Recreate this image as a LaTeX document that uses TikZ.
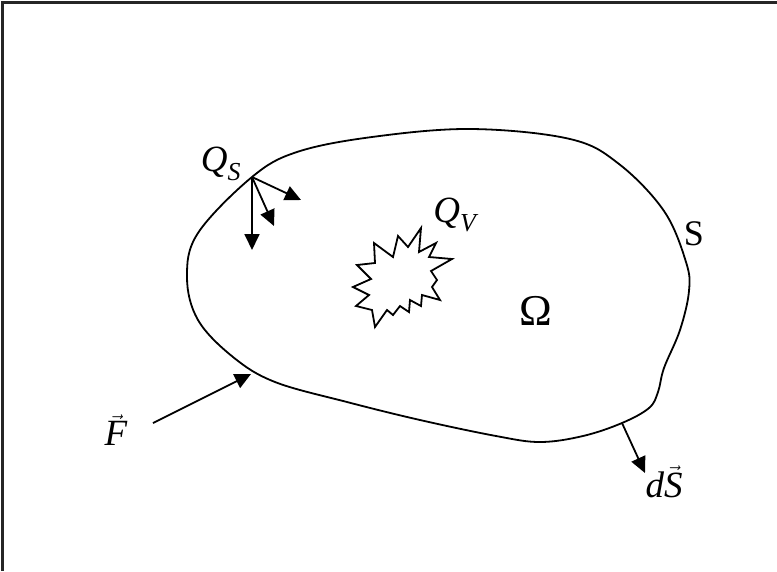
\documentclass[tikz,border=0pt]{standalone}
\usepackage{fontspec}
\setmainfont{Liberation Serif}
\usetikzlibrary{arrows.meta}

\begin{document}
\begin{tikzpicture}[x=1pt, y=-1pt, line width=1.8pt, arr/.style={-{Triangle[length=16pt, width=15pt]}}, lbl/.style={inner sep=0pt, font=\fontsize{37}{44}\selectfont}]
	\useasboundingbox (0, 0) rectangle (777, 571);
	\draw[line width=3pt, black!85] (2, 571) -- (2, 2) -- (777, 2);

	% surface S
	\draw plot[smooth cycle, tension=0.6] coordinates {(252,177) (297,152) (372,137) (471,129) (570,139) (619,164) (664,211) (686,262) (689,291) (680,330) (664,368) (658,392) (649,408) (622,423) (583,436) (540,442) (496,436) (420,420) (347,402) (275,382) (233,357) (198,320) (187,277) (198,233)};

	% volume source
	\draw[line join=miter] (421,228) -- (419,252) -- (436,243) -- (429,257) -- (452,259) -- (431,271) -- (437,280) -- (432,287) -- (440,300) -- (422,295) -- (421,306) -- (410,300) -- (409,312) -- (400,306) -- (393,315) -- (387,310) -- (375,327) -- (372,310) -- (356,306) -- (369,295) -- (353,287) -- (371,279) -- (357,265) -- (375,263) -- (374,243) -- (393,257) -- (398,236) -- (408,247) -- cycle;

	\coordinate (qs) at (252, 177);
	\coordinate (qs1) at (252, 250);
	\coordinate (qs2) at (274, 226);
	\coordinate (qs3) at (301, 200);
	\coordinate (ftail) at (153, 423);
	\coordinate (ftip) at (251, 374);
	\coordinate (ds) at (622, 423);
	\coordinate (dstip) at (645, 473);

	\node[lbl] (Qs) at (221, 164) {$\mathit{Q}_{\mathit{S}}$};
	\node[lbl] (Qv) at (455, 215) {$\mathit{Q}_{\mathit{V}}$};
	\node[lbl, font=\fontsize{44}{52}\selectfont] (om) at (536, 311) {Ω};
	\node[lbl, font=\fontsize{36}{43}\selectfont] (sl) at (694, 234) {S};
	\node[lbl] (F) at (116, 430) {$\vec{\mathit{F}}$};
	\node[lbl] (dS) at (664, 482) {$\mathit{d}\vec{\mathit{S}}$};

	\draw[arr] (qs) -- (qs1);
	\draw[arr] (qs) -- (qs2);
	\draw[arr] (qs) -- (qs3);
	\draw[arr] (ftail) -- (ftip);
	\draw[arr] (ds) -- (dstip);
\end{tikzpicture}
\end{document}
